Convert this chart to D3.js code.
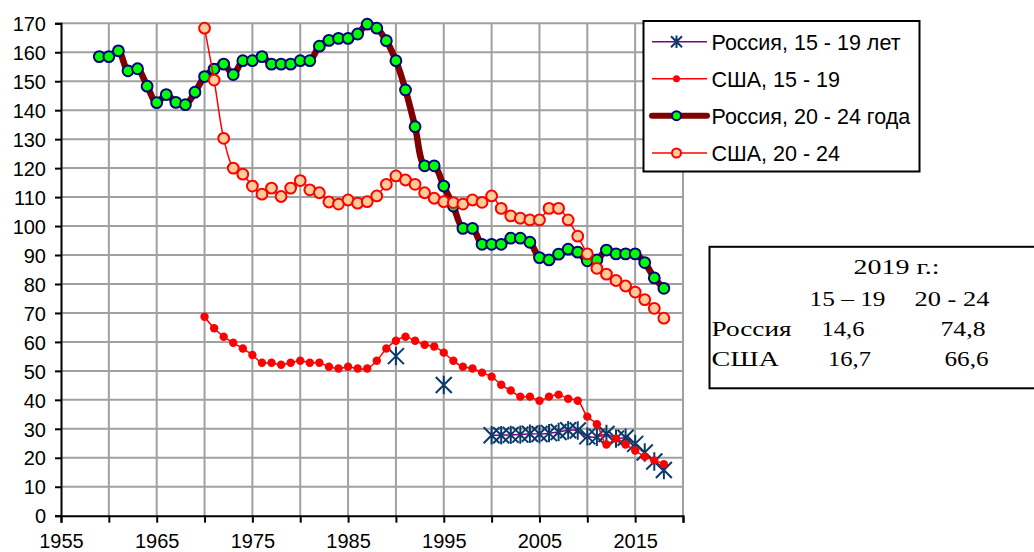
<!DOCTYPE html>
<html>
<head>
<meta charset="utf-8">
<script src="https://cdn.jsdelivr.net/npm/d3@7"></script>
<style>
  html, body { margin: 0; padding: 0; background: #fff; }
  svg { display: block; }
</style>
</head>
<body>
<svg id="chart" width="1034" height="552"></svg>
<script>
// ---- DATA ----
const yearsRu2024 = d3.range(1959, 2019);
const ru2024 = [158.5, 158.5, 160.5, 153.6, 154.3, 148.3, 142.6, 145.4, 142.7, 141.9,
  146.2, 151.6, 154.2, 155.9, 152.3, 157.1, 157.1, 158.5, 155.9, 155.9,
  155.9, 157.1, 157.1, 162.1, 164.1, 164.8, 164.8, 166.3, 169.7, 168.3,
  164.0, 157.1, 147.0, 134.3, 120.8, 120.8, 113.8, 106.9, 99.2, 99.2,
  93.7, 93.7, 93.7, 95.8, 95.8, 94.4, 89.1, 88.3, 90.3, 92.0,
  91.0, 88.0, 88.3, 91.7, 90.4, 90.4, 90.4, 87.4, 82.1, 78.5];

const yearsUsa = d3.range(1970, 2019);
const usa2024 = [168.3, 150.4, 130.3, 120.0, 117.9, 113.8, 111.0, 113.1, 110.2, 113.1,
  115.7, 112.5, 111.5, 108.3, 107.6, 109.0, 107.9, 108.4, 110.4, 114.4,
  117.3, 115.9, 114.4, 111.5, 109.6, 108.4, 108.1, 107.6, 109.0, 108.2,
  110.4, 106.1, 103.5, 102.7, 102.1, 102.1, 106.1, 106.1, 102.1, 96.5,
  90.4, 85.4, 83.4, 81.2, 79.3, 77.2, 74.6, 71.6, 68.2];
const usa1519 = [68.7, 64.7, 61.8, 59.7, 57.7, 55.5, 52.8, 52.8, 52.1, 52.8,
  53.5, 52.8, 52.8, 51.4, 50.8, 51.4, 50.8, 50.8, 53.5, 57.7,
  60.4, 61.8, 60.4, 59.0, 58.4, 56.3, 53.5, 51.4, 50.8, 49.4,
  48.0, 45.2, 43.2, 41.1, 41.1, 39.7, 41.1, 41.8, 40.4, 39.7,
  34.2, 31.6, 24.6, 26.6, 24.6, 22.5, 20.4, 19.1, 17.8];

const yearsRu1519 = [1990, 1995, 2000, 2001, 2002, 2003, 2004, 2005, 2006, 2007, 2008, 2009,
  2010, 2011, 2012, 2013, 2014, 2015, 2016, 2017, 2018];
const ru1519 = [55.1, 45.1, 27.8, 27.8, 27.9, 28.0, 28.3, 28.2, 28.5, 28.9, 29.5, 29.4,
  27.4, 27.2, 28.2, 26.6, 26.9, 24.8, 21.8, 18.7, 15.8];
// isolated points of the Russia 15-19 series (not connected by the line)
const ru1519Breaks = [1990, 1995];

const seriesNames = ["Россия, 15 - 19 лет", "США, 15 - 19", "Россия, 20 - 24 года", "США, 20 - 24"];
const xTicks = d3.range(1955, 2021, 5);
const xLabels = d3.range(1955, 2020, 10);
const yTicks = d3.range(0, 171, 10);

const boxTitle = "2019 г.:";
const boxCols = ["15 – 19", "20 - 24"];
const boxRows = ["Россия", "США"];
const boxVals = [["14,6", "74,8"], ["16,7", "66,6"]];

// ---- CHART ----
const svg = d3.select("#chart");
const x = d3.scaleLinear().domain([1955, 2020]).range([61, 683]);
const y = d3.scaleLinear().domain([0, 170]).range([515.7, 23.3]);
const sans = "'Liberation Sans', Arial, sans-serif";
const serif = "'Liberation Serif', 'Times New Roman', serif";

// grid
const grid = svg.append("g");
grid.selectAll("line.v").data(xTicks.filter(d => d > 1955)).join("line")
  .attr("x1", d => x(d)).attr("x2", d => x(d))
  .attr("y1", y(0)).attr("y2", y(170))
  .attr("stroke", "#a0a0a0").attr("stroke-width", 2);
grid.selectAll("line.h").data(yTicks.filter(d => d > 0)).join("line")
  .attr("x1", x(1955)).attr("x2", x(2020))
  .attr("y1", d => y(d)).attr("y2", d => y(d))
  .attr("stroke", "#a0a0a0").attr("stroke-width", 2);

// axes
const xAxis = d3.axisBottom(x).tickValues(xTicks).tickSize(7)
  .tickFormat(d => xLabels.includes(d) ? String(d) : "");
const gx = svg.append("g").attr("transform", `translate(0,${y(0)})`).call(xAxis);
gx.select(".domain").attr("stroke", "#000").attr("stroke-width", 2);
gx.selectAll(".tick line").attr("stroke", "#000").attr("stroke-width", 2);
gx.selectAll(".tick text").attr("font-family", sans).attr("font-size", 20)
  .attr("fill", "#000").attr("y", 0).attr("dy", 0)
  .attr("transform", "translate(0,32)");

const yAxis = d3.axisLeft(y).tickValues(yTicks).tickSize(6).tickFormat(d3.format("d"));
const gy = svg.append("g").attr("transform", `translate(${x(1955)},0)`).call(yAxis);
gy.select(".domain").attr("stroke", "#000").attr("stroke-width", 2);
gy.selectAll(".tick line").attr("stroke", "#000").attr("stroke-width", 2);
gy.selectAll(".tick text").attr("font-family", sans).attr("font-size", 20)
  .attr("fill", "#000").attr("x", -15).attr("dy", "0.36em");

const curve = d3.curveCatmullRom.alpha(0.5);
const lineGen = d3.line().x(d => x(d[0])).y(d => y(d[1])).curve(curve);

const starPath = s => `M${-s},${-s}L${s},${s}M${-s},${s}L${s},${-s}M0,${-s * 1.15}L0,${s * 1.15}`;

// Series 1: Russia 15-19
const ru1519Pts = yearsRu1519.map((yr, i) => [yr, ru1519[i]]);
const ru1519Line = ru1519Pts.filter(d => !ru1519Breaks.includes(d[0]));
svg.append("path").attr("d", lineGen(ru1519Line))
  .attr("fill", "none").attr("stroke", "#800080").attr("stroke-width", 1.5);
svg.append("g").selectAll("path").data(ru1519Pts).join("path")
  .attr("transform", d => `translate(${x(d[0])},${y(d[1])})`)
  .attr("d", starPath(8))
  .attr("fill", "none").attr("stroke", "#0b3a6a").attr("stroke-width", 2);

// Series 2: USA 15-19
const usa1519Pts = yearsUsa.map((yr, i) => [yr, usa1519[i]]);
svg.append("path").attr("d", lineGen(usa1519Pts))
  .attr("fill", "none").attr("stroke", "#ff0000").attr("stroke-width", 1.5);
svg.append("g").selectAll("circle").data(usa1519Pts).join("circle")
  .attr("cx", d => x(d[0])).attr("cy", d => y(d[1])).attr("r", 4.2)
  .attr("fill", "#ff0000");

// Series 3: Russia 20-24
const ru2024Pts = yearsRu2024.map((yr, i) => [yr, ru2024[i]]);
svg.append("path").attr("d", lineGen(ru2024Pts))
  .attr("fill", "none").attr("stroke", "#800000").attr("stroke-width", 6.5)
  .attr("stroke-linejoin", "round");
svg.append("g").selectAll("circle").data(ru2024Pts).join("circle")
  .attr("cx", d => x(d[0])).attr("cy", d => y(d[1])).attr("r", 5.4)
  .attr("fill", "#00ff00").attr("stroke", "#000080").attr("stroke-width", 2);

// Series 4: USA 20-24
const usa2024Pts = yearsUsa.map((yr, i) => [yr, usa2024[i]]);
svg.append("path").attr("d", lineGen(usa2024Pts))
  .attr("fill", "none").attr("stroke", "#ff0000").attr("stroke-width", 1.5);
svg.append("g").selectAll("circle").data(usa2024Pts).join("circle")
  .attr("cx", d => x(d[0])).attr("cy", d => y(d[1])).attr("r", 5.4)
  .attr("fill", "#ffcc99").attr("stroke", "#ff0000").attr("stroke-width", 2);

// ---- LEGEND ----
const lg = svg.append("g");
lg.append("rect").attr("x", 643.5).attr("y", 21).attr("width", 276).attr("height", 150.5)
  .attr("fill", "#fff").attr("stroke", "#000").attr("stroke-width", 2);
const rowY = [41.7, 78.7, 115.7, 153];
const lx1 = 652, lx2 = 707, lmx = 676.5;
seriesNames.forEach((name, i) => {
  const cy = rowY[i];
  const g = lg.append("g");
  if (i === 0) {
    g.append("line").attr("x1", lx1).attr("x2", lx2).attr("y1", cy).attr("y2", cy)
      .attr("stroke", "#800080").attr("stroke-width", 1.5);
    g.append("path").attr("transform", `translate(${lmx},${cy})`).attr("d", starPath(5.5))
      .attr("fill", "none").attr("stroke", "#0b3a6a").attr("stroke-width", 2);
  } else if (i === 1) {
    g.append("line").attr("x1", lx1).attr("x2", lx2).attr("y1", cy).attr("y2", cy)
      .attr("stroke", "#ff0000").attr("stroke-width", 1.5);
    g.append("circle").attr("cx", lmx).attr("cy", cy).attr("r", 3.5).attr("fill", "#ff0000");
  } else if (i === 2) {
    g.append("line").attr("x1", lx1).attr("x2", lx2).attr("y1", cy).attr("y2", cy)
      .attr("stroke", "#800000").attr("stroke-width", 6).attr("stroke-linecap", "round");
    g.append("circle").attr("cx", lmx).attr("cy", cy).attr("r", 4.5)
      .attr("fill", "#00ff00").attr("stroke", "#000080").attr("stroke-width", 2);
  } else {
    g.append("line").attr("x1", lx1).attr("x2", lx2).attr("y1", cy).attr("y2", cy)
      .attr("stroke", "#ff0000").attr("stroke-width", 1.5);
    g.append("circle").attr("cx", lmx).attr("cy", cy).attr("r", 4.5)
      .attr("fill", "#ffcc99").attr("stroke", "#ff0000").attr("stroke-width", 2);
  }
  g.append("text").attr("x", 711.5).attr("y", cy + 8.3)
    .attr("font-family", sans).attr("font-size", 21.5).attr("fill", "#000").text(name);
});

// ---- TEXT BOX ----
const tb = svg.append("g");
tb.append("rect").attr("x", 709.5).attr("y", 246.8).attr("width", 340).attr("height", 141.5)
  .attr("fill", "#fff").attr("stroke", "#000").attr("stroke-width", 2);
function boxText(str, xs, yb, w) {
  tb.append("text").attr("x", xs).attr("y", yb)
    .attr("font-family", serif).attr("font-size", 22).attr("fill", "#000")
    .attr("textLength", w).attr("lengthAdjust", "spacingAndGlyphs").text(str);
}
boxText(boxTitle, 853.5, 274.3, 86);
boxText(boxCols[0], 809.5, 305.7, 76);
boxText(boxCols[1], 914.5, 305.7, 75);
boxText(boxRows[0], 711.5, 335.7, 80);
boxText(boxVals[0][0], 821.5, 335.7, 43);
boxText(boxVals[0][1], 940.5, 335.7, 45);
boxText(boxRows[1], 711.5, 365.7, 67.5);
boxText(boxVals[1][0], 828, 365.7, 43);
boxText(boxVals[1][1], 944.5, 365.7, 44);
</script>
</body>
</html>
